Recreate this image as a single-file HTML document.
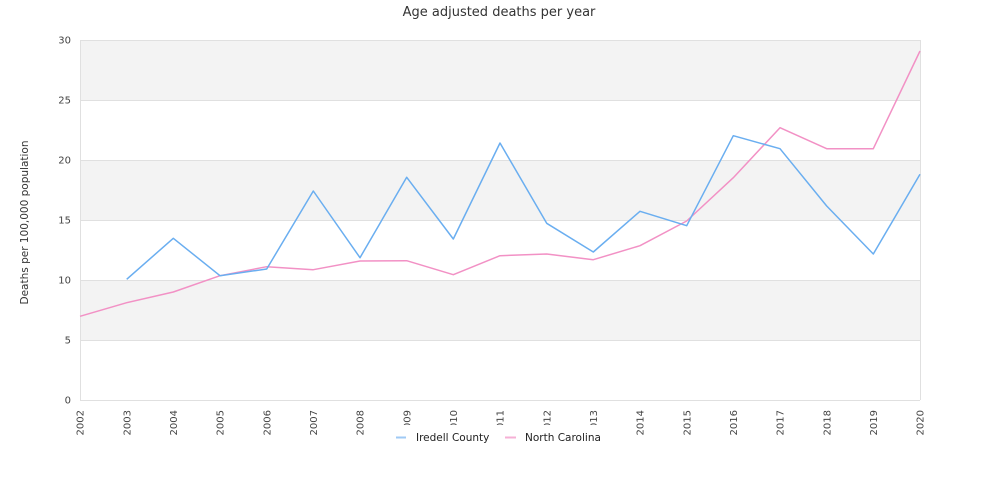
<!DOCTYPE html>
<html><head><meta charset="utf-8"><style>
html,body{margin:0;padding:0;background:#fff;}
svg{display:block;font-family:"DejaVu Sans","Liberation Sans",sans-serif;}
</style></head><body>
<svg width="1000" height="500" viewBox="0 0 1000 500" xmlns="http://www.w3.org/2000/svg">
<rect x="0" y="0" width="1000" height="500" fill="#fff"/>
<text x="499" y="16" text-anchor="middle" font-size="13" fill="#333">Age adjusted deaths per year</text>
<!-- bands -->
<rect x="80" y="40" width="840" height="60" fill="#f3f3f3"/>
<rect x="80" y="160" width="840" height="60" fill="#f3f3f3"/>
<rect x="80" y="280" width="840" height="60" fill="#f3f3f3"/>
<g stroke="#e0e0e0" stroke-width="1">
<line x1="80" y1="40.5" x2="920" y2="40.5"/>
<line x1="80" y1="100.5" x2="920" y2="100.5"/>
<line x1="80" y1="160.5" x2="920" y2="160.5"/>
<line x1="80" y1="220.5" x2="920" y2="220.5"/>
<line x1="80" y1="280.5" x2="920" y2="280.5"/>
<line x1="80" y1="340.5" x2="920" y2="340.5"/>
<line x1="80" y1="400.5" x2="920" y2="400.5"/>
<line x1="80.5" y1="40" x2="80.5" y2="400"/>
<line x1="920.5" y1="40" x2="920.5" y2="400"/>
</g>
<g font-size="10" fill="#444" text-anchor="end">
<text x="71" y="43.5">30</text>
<text x="71" y="103.5">25</text>
<text x="71" y="163.5">20</text>
<text x="71" y="223.5">15</text>
<text x="71" y="283.5">10</text>
<text x="71" y="343.5">5</text>
<text x="71" y="403.5">0</text>
</g>
<text transform="translate(28,222.5) rotate(-90)" text-anchor="middle" font-size="10.5" fill="#333">Deaths per 100,000 population</text>
<g font-size="10" fill="#444" text-anchor="end">
<text transform="translate(83.6,410) rotate(-90)">2002</text>
<text transform="translate(130.3,410) rotate(-90)">2003</text>
<text transform="translate(176.9,410) rotate(-90)">2004</text>
<text transform="translate(223.6,410) rotate(-90)">2005</text>
<text transform="translate(270.3,410) rotate(-90)">2006</text>
<text transform="translate(316.9,410) rotate(-90)">2007</text>
<text transform="translate(363.6,410) rotate(-90)">2008</text>
<text transform="translate(410.3,410) rotate(-90)">2009</text>
<text transform="translate(456.9,410) rotate(-90)">2010</text>
<text transform="translate(503.6,410) rotate(-90)">2011</text>
<text transform="translate(550.3,410) rotate(-90)">2012</text>
<text transform="translate(596.9,410) rotate(-90)">2013</text>
<text transform="translate(643.6,410) rotate(-90)">2014</text>
<text transform="translate(690.3,410) rotate(-90)">2015</text>
<text transform="translate(736.9,410) rotate(-90)">2016</text>
<text transform="translate(783.6,410) rotate(-90)">2017</text>
<text transform="translate(830.3,410) rotate(-90)">2018</text>
<text transform="translate(876.9,410) rotate(-90)">2019</text>
<text transform="translate(923.6,410) rotate(-90)">2020</text>
</g>
<!-- series -->
<polyline fill="none" stroke="#f291c5" stroke-width="1.5" stroke-linejoin="round" points="80,316.3 126.7,302.7 173.3,292 220,275.7 266.7,266.7 313.3,269.7 360,261 406.7,260.7 453.3,274.7 500,255.7 546.7,254 593.3,259.7 640,245.7 686.7,221 733.3,177.7 780,127.7 826.7,148.7 873.3,148.7 920,51"/>
<polyline fill="none" stroke="#6aaef0" stroke-width="1.5" stroke-linejoin="round" points="126.7,279.3 173.3,238.3 220,275.7 266.7,269 313.3,191 360,257.7 406.7,177.3 453.3,239 500,143 546.7,223.3 593.3,252 640,211.3 686.7,225.7 733.3,135.7 780,148.7 826.7,206 873.3,254 920,174.3"/>
<!-- legend -->
<rect x="388" y="425" width="226" height="25" fill="#fff"/>
<line x1="396" y1="437.5" x2="406" y2="437.5" stroke="#9fcaf5" stroke-width="2"/>
<text x="416" y="441" font-size="10.5" fill="#222">Iredell County</text>
<line x1="505" y1="437.5" x2="516" y2="437.5" stroke="#f6b0d6" stroke-width="2"/>
<text x="525" y="441" font-size="10.5" fill="#222">North Carolina</text>
</svg>
</body></html>
